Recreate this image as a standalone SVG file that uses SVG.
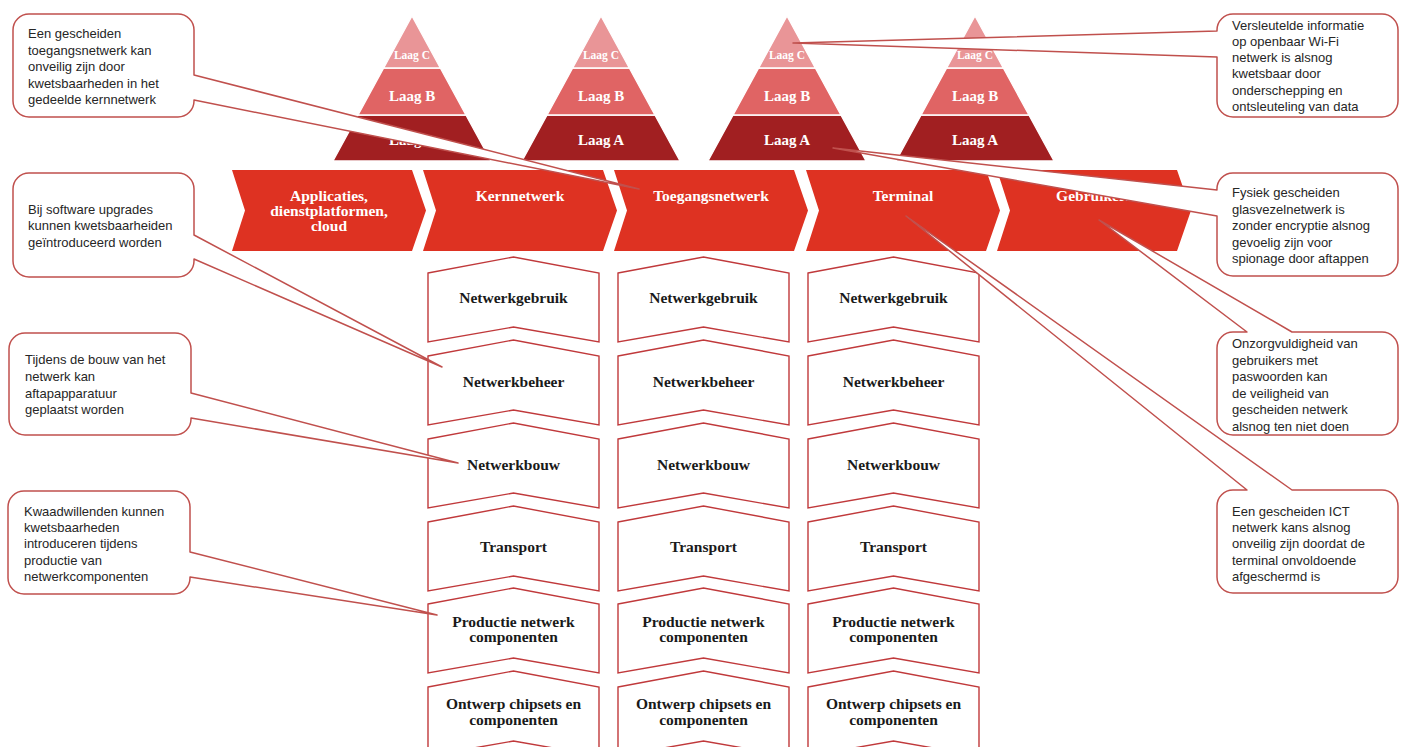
<svg xmlns="http://www.w3.org/2000/svg" width="1402" height="747" viewBox="0 0 1402 747">
<style>
.lc{fill:#E99597;stroke:#fff;stroke-width:1.3}
.lb{fill:#E06464;stroke:#fff;stroke-width:1.3}
.la{fill:#A11F21;stroke:#fff;stroke-width:1.3}
.pt{font-family:"Liberation Serif",serif;font-weight:bold;fill:#fff;text-anchor:middle}
.chev{fill:#DE3222}
.ct{font-family:"Liberation Serif",serif;font-weight:bold;font-size:15.5px;fill:#fff;text-anchor:middle}
.box{fill:#fff;stroke:#C0393B;stroke-width:1.4}
.bt{font-family:"Liberation Serif",serif;font-weight:bold;font-size:15.5px;fill:#1a1a1a;text-anchor:middle}
.co{fill:#fff;stroke:#C0504D;stroke-width:1.5;stroke-linejoin:round}
.cot{font-family:"Liberation Sans",Arial,sans-serif;font-size:13px;fill:#262626}
</style>
<rect width="1402" height="747" fill="#fff"/>

<g id="pyramids">
<g id="pyramid-1" transform="translate(412,0)">
<polygon class="la" points="-53.9,115 53.9,115 79,161 -79,161"/>
<polygon class="lb" points="-28.3,68 28.3,68 53.9,115 -53.9,115"/>
<polygon class="lc" points="0,16 28.3,68 -28.3,68"/>
<text class="pt" x="0" y="59" font-size="11.5">Laag C</text>
<text class="pt" x="0" y="101" font-size="15">Laag B</text>
<text class="pt" x="0" y="145" font-size="15">Laag A</text>
</g>
<g id="pyramid-2" transform="translate(601,0)">
<polygon class="la" points="-53.9,115 53.9,115 79,161 -79,161"/>
<polygon class="lb" points="-28.3,68 28.3,68 53.9,115 -53.9,115"/>
<polygon class="lc" points="0,16 28.3,68 -28.3,68"/>
<text class="pt" x="0" y="59" font-size="11.5">Laag C</text>
<text class="pt" x="0" y="101" font-size="15">Laag B</text>
<text class="pt" x="0" y="145" font-size="15">Laag A</text>
</g>
<g id="pyramid-3" transform="translate(787,0)">
<polygon class="la" points="-53.9,115 53.9,115 79,161 -79,161"/>
<polygon class="lb" points="-28.3,68 28.3,68 53.9,115 -53.9,115"/>
<polygon class="lc" points="0,16 28.3,68 -28.3,68"/>
<text class="pt" x="0" y="59" font-size="11.5">Laag C</text>
<text class="pt" x="0" y="101" font-size="15">Laag B</text>
<text class="pt" x="0" y="145" font-size="15">Laag A</text>
</g>
<g id="pyramid-4" transform="translate(975,0)">
<polygon class="la" points="-53.9,115 53.9,115 79,161 -79,161"/>
<polygon class="lb" points="-28.3,68 28.3,68 53.9,115 -53.9,115"/>
<polygon class="lc" points="0,16 28.3,68 -28.3,68"/>
<text class="pt" x="0" y="59" font-size="11.5">Laag C</text>
<text class="pt" x="0" y="101" font-size="15">Laag B</text>
<text class="pt" x="0" y="145" font-size="15">Laag A</text>
</g>
</g>

<g id="chevrons">
<g id="chev-applicaties" transform="translate(232,0)">
<polygon class="chev" points="0,170 180,170 194,210.5 180,251 0,251 13,210.5"/>
<text class="ct" x="97" y="201">Applicaties,</text>
<text class="ct" x="97" y="216">dienstplatformen,</text>
<text class="ct" x="97" y="231">cloud</text>
</g>
<g id="chev-kernnetwerk" transform="translate(423,0)">
<polygon class="chev" points="0,170 180,170 194,210.5 180,251 0,251 13,210.5"/>
<text class="ct" x="97" y="201">Kernnetwerk</text>
</g>
<g id="chev-toegangsnetwerk" transform="translate(614,0)">
<polygon class="chev" points="0,170 180,170 194,210.5 180,251 0,251 13,210.5"/>
<text class="ct" x="97" y="201">Toegangsnetwerk</text>
</g>
<g id="chev-terminal" transform="translate(806,0)">
<polygon class="chev" points="0,170 180,170 194,210.5 180,251 0,251 13,210.5"/>
<text class="ct" x="97" y="201">Terminal</text>
</g>
<g id="chev-gebruikers" transform="translate(997,0)">
<polygon class="chev" points="0,170 180,170 194,210.5 180,251 0,251 13,210.5"/>
<text class="ct" x="97" y="201">Gebruikers</text>
</g>
</g>

<g id="layers">
<g id="col1">
<g id="c1-r1" transform="translate(428,257)"><polygon class="box" points="0,16 85.5,0 171,16 171,85 85.5,70 0,85"/><text class="bt" x="85.5" y="46">Netwerkgebruik</text></g>
<g id="c1-r2" transform="translate(428,340)"><polygon class="box" points="0,16 85.5,0 171,16 171,85 85.5,70 0,85"/><text class="bt" x="85.5" y="47">Netwerkbeheer</text></g>
<g id="c1-r3" transform="translate(428,423)"><polygon class="box" points="0,16 85.5,0 171,16 171,85 85.5,70 0,85"/><text class="bt" x="85.5" y="47">Netwerkbouw</text></g>
<g id="c1-r4" transform="translate(428,506)"><polygon class="box" points="0,16 85.5,0 171,16 171,85 85.5,70 0,85"/><text class="bt" x="85.5" y="46">Transport</text></g>
<g id="c1-r5" transform="translate(428,588)"><polygon class="box" points="0,16 85.5,0 171,16 171,85 85.5,70 0,85"/><text class="bt" x="85.5" y="39">Productie netwerk</text><text class="bt" x="85.5" y="54">componenten</text></g>
<g id="c1-r6" transform="translate(428,671)"><polygon class="box" points="0,16 85.5,0 171,16 171,85 85.5,70 0,85"/><text class="bt" x="85.5" y="38">Ontwerp chipsets en</text><text class="bt" x="85.5" y="53.5">componenten</text></g>
</g>
<g id="col2">
<g id="c2-r1" transform="translate(618,257)"><polygon class="box" points="0,16 85.5,0 171,16 171,85 85.5,70 0,85"/><text class="bt" x="85.5" y="46">Netwerkgebruik</text></g>
<g id="c2-r2" transform="translate(618,340)"><polygon class="box" points="0,16 85.5,0 171,16 171,85 85.5,70 0,85"/><text class="bt" x="85.5" y="47">Netwerkbeheer</text></g>
<g id="c2-r3" transform="translate(618,423)"><polygon class="box" points="0,16 85.5,0 171,16 171,85 85.5,70 0,85"/><text class="bt" x="85.5" y="47">Netwerkbouw</text></g>
<g id="c2-r4" transform="translate(618,506)"><polygon class="box" points="0,16 85.5,0 171,16 171,85 85.5,70 0,85"/><text class="bt" x="85.5" y="46">Transport</text></g>
<g id="c2-r5" transform="translate(618,588)"><polygon class="box" points="0,16 85.5,0 171,16 171,85 85.5,70 0,85"/><text class="bt" x="85.5" y="39">Productie netwerk</text><text class="bt" x="85.5" y="54">componenten</text></g>
<g id="c2-r6" transform="translate(618,671)"><polygon class="box" points="0,16 85.5,0 171,16 171,85 85.5,70 0,85"/><text class="bt" x="85.5" y="38">Ontwerp chipsets en</text><text class="bt" x="85.5" y="53.5">componenten</text></g>
</g>
<g id="col3">
<g id="c3-r1" transform="translate(808,257)"><polygon class="box" points="0,16 85.5,0 171,16 171,85 85.5,70 0,85"/><text class="bt" x="85.5" y="46">Netwerkgebruik</text></g>
<g id="c3-r2" transform="translate(808,340)"><polygon class="box" points="0,16 85.5,0 171,16 171,85 85.5,70 0,85"/><text class="bt" x="85.5" y="47">Netwerkbeheer</text></g>
<g id="c3-r3" transform="translate(808,423)"><polygon class="box" points="0,16 85.5,0 171,16 171,85 85.5,70 0,85"/><text class="bt" x="85.5" y="47">Netwerkbouw</text></g>
<g id="c3-r4" transform="translate(808,506)"><polygon class="box" points="0,16 85.5,0 171,16 171,85 85.5,70 0,85"/><text class="bt" x="85.5" y="46">Transport</text></g>
<g id="c3-r5" transform="translate(808,588)"><polygon class="box" points="0,16 85.5,0 171,16 171,85 85.5,70 0,85"/><text class="bt" x="85.5" y="39">Productie netwerk</text><text class="bt" x="85.5" y="54">componenten</text></g>
<g id="c3-r6" transform="translate(808,671)"><polygon class="box" points="0,16 85.5,0 171,16 171,85 85.5,70 0,85"/><text class="bt" x="85.5" y="38">Ontwerp chipsets en</text><text class="bt" x="85.5" y="53.5">componenten</text></g>
</g>
</g>

<g id="callouts">
<g id="callout-kernnetwerk">
<path class="co" d="M29,14 H178 A16,16 0 0 1 194,30 V75 L639,189 L194,100 V101 A16,16 0 0 1 178,117 H29 A16,16 0 0 1 13,101 V30 A16,16 0 0 1 29,14 Z"/>
<text class="cot" x="28" y="37.5">Een gescheiden</text>
<text class="cot" x="28" y="54.5">toegangsnetwerk kan</text>
<text class="cot" x="28" y="70.5">onveilig zijn door</text>
<text class="cot" x="28" y="87.5">kwetsbaarheden in het</text>
<text class="cot" x="28" y="103.5">gedeelde kernnetwerk</text>
</g>
<g id="callout-software">
<path class="co" d="M29,173 H178 A16,16 0 0 1 194,189 V235 L442,367 L194,259 V261 A16,16 0 0 1 178,277 H29 A16,16 0 0 1 13,261 V189 A16,16 0 0 1 29,173 Z"/>
<text class="cot" x="28" y="213.5">Bij software upgrades</text>
<text class="cot" x="28" y="229.5">kunnen kwetsbaarheiden</text>
<text class="cot" x="28" y="246.5">geïntroduceerd worden</text>
</g>
<g id="callout-bouw">
<path class="co" d="M25,333 H175 A16,16 0 0 1 191,349 V393 L458,463 L191,418 V419 A16,16 0 0 1 175,435 H25 A16,16 0 0 1 9,419 V349 A16,16 0 0 1 25,333 Z"/>
<text class="cot" x="25" y="363.5">Tijdens de bouw van het</text>
<text class="cot" x="25" y="380.5">netwerk kan</text>
<text class="cot" x="25" y="397.5">aftapapparatuur</text>
<text class="cot" x="25" y="413.5">geplaatst worden</text>
</g>
<g id="callout-productie">
<path class="co" d="M24,491 H174 A16,16 0 0 1 190,507 V552 L437,615 L190,577 V578 A16,16 0 0 1 174,594 H24 A16,16 0 0 1 8,578 V507 A16,16 0 0 1 24,491 Z"/>
<text class="cot" x="24" y="515.5">Kwaadwillenden kunnen</text>
<text class="cot" x="24" y="531.5">kwetsbaarheden</text>
<text class="cot" x="24" y="547.5">introduceren tijdens</text>
<text class="cot" x="24" y="564.5">productie van</text>
<text class="cot" x="24" y="580.5">netwerkcomponenten</text>
</g>
<g id="callout-wifi">
<path class="co" d="M1233,14 H1382 A16,16 0 0 1 1398,30 V101 A16,16 0 0 1 1382,117 H1233 A16,16 0 0 1 1217,101 V57 L793,43 L1217,31 V30 A16,16 0 0 1 1233,14 Z"/>
<text class="cot" x="1232" y="29.5">Versleutelde informatie</text>
<text class="cot" x="1232" y="45.5">op openbaar Wi-Fi</text>
<text class="cot" x="1232" y="61.5">netwerk is alsnog</text>
<text class="cot" x="1232" y="77.5">kwetsbaar door</text>
<text class="cot" x="1232" y="94.5">onderschepping en</text>
<text class="cot" x="1232" y="110.5">ontsleuteling van data</text>
</g>
<g id="callout-glasvezel">
<path class="co" d="M1233,173 H1382 A16,16 0 0 1 1398,189 V260 A16,16 0 0 1 1382,276 H1233 A16,16 0 0 1 1217,260 V216 L833,148 L1217,190 A16,16 0 0 1 1233,173 Z"/>
<text class="cot" x="1232" y="196.5">Fysiek gescheiden</text>
<text class="cot" x="1232" y="213.5">glasvezelnetwerk is</text>
<text class="cot" x="1232" y="229.5">zonder encryptie alsnog</text>
<text class="cot" x="1232" y="246.5">gevoelig zijn voor</text>
<text class="cot" x="1232" y="262.5">spionage door aftappen</text>
</g>
<g id="callout-paswoorden">
<path class="co" d="M1233,332 H1247 L1099,220 L1292,332 H1382 A16,16 0 0 1 1398,348 V419 A16,16 0 0 1 1382,435 H1233 A16,16 0 0 1 1217,419 V348 A16,16 0 0 1 1233,332 Z"/>
<text class="cot" x="1232" y="347.5">Onzorgvuldigheid van</text>
<text class="cot" x="1232" y="364.5">gebruikers met</text>
<text class="cot" x="1232" y="380.5">paswoorden kan</text>
<text class="cot" x="1232" y="397.5">de veiligheid van</text>
<text class="cot" x="1232" y="413.5">gescheiden netwerk</text>
<text class="cot" x="1232" y="430.5">alsnog ten niet doen</text>
</g>
<g id="callout-terminal">
<path class="co" d="M1233,490 H1247 L906,216 L1292,490 H1382 A16,16 0 0 1 1398,506 V577 A16,16 0 0 1 1382,593 H1233 A16,16 0 0 1 1217,577 V506 A16,16 0 0 1 1233,490 Z"/>
<text class="cot" x="1232" y="515.5">Een gescheiden ICT</text>
<text class="cot" x="1232" y="531.5">netwerk kans alsnog</text>
<text class="cot" x="1232" y="547.5">onveilig zijn doordat de</text>
<text class="cot" x="1232" y="564.5">terminal onvoldoende</text>
<text class="cot" x="1232" y="580.5">afgeschermd is</text>
</g>
</g>
</svg>
